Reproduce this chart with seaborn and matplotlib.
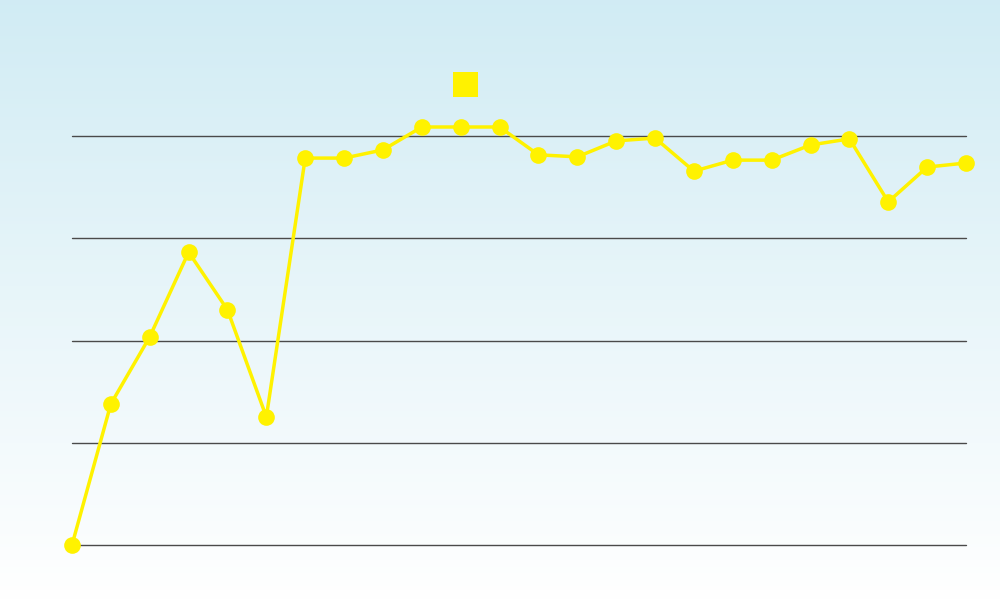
import numpy as np
import pandas as pd
import seaborn as sns
import matplotlib.pyplot as plt
from matplotlib.lines import Line2D

# values (arbitrary units, gridlines every 25)
periods = list(range(1, 25))
values = [0, 34.5, 50.9, 71.6, 57.5, 31.3, 94.6, 94.6, 96.6, 102.2, 102.2, 102.2,
          95.4, 94.9, 98.8, 99.5, 91.4, 94.1, 94.1, 97.8, 99.3, 83.9, 92.4, 93.4]
yticks = [0, 25, 50, 75, 100]

line_color = '#fff200'
grid_color = '#4a4a4a'

df = pd.DataFrame({'period': periods, 'value': values})

sns.set_style('white')
fig = plt.figure(figsize=(10, 6), dpi=100)

# background gradient, light blue at top fading to white
bg = fig.add_axes([0, 0, 1, 1], zorder=0)
grad = np.linspace(0, 1, 256).reshape(-1, 1)
top = np.array([0.820, 0.925, 0.957])
bottom = np.array([1.0, 1.0, 1.0])
img = top[None, None, :] * (1 - grad[:, :, None]) + bottom[None, None, :] * grad[:, :, None]
bg.imshow(img, aspect='auto', extent=[0, 1, 0, 1])
bg.axis('off')

ax = fig.add_axes([0.072, 1 - 545 / 600, 0.894, (545 - 136) / 600], zorder=1)
ax.patch.set_alpha(0)

for y in yticks:
    ax.axhline(y, color=grid_color, linewidth=1.0, zorder=1, clip_on=False)

sns.lineplot(data=df, x='period', y='value', ax=ax, color=line_color,
             linewidth=2.5, marker='o', markersize=12, markeredgewidth=0,
             clip_on=False, zorder=3)

ax.set_xlim(periods[0], periods[-1])
ax.set_ylim(0, 100)
ax.set_xticks([])
ax.set_yticks([])
ax.set_xlabel('')
ax.set_ylabel('')
sns.despine(ax=ax, left=True, bottom=True)

handle = Line2D([], [], linestyle='none', marker='s', markersize=18,
                markerfacecolor=line_color, markeredgewidth=0)
fig.legend(handles=[handle], labels=[''], loc='center',
           bbox_to_anchor=(0.4645, 1 - 84.5 / 600), frameon=False,
           handlelength=1, handletextpad=0, borderpad=0)

fig.savefig('out.png', dpi=100)
